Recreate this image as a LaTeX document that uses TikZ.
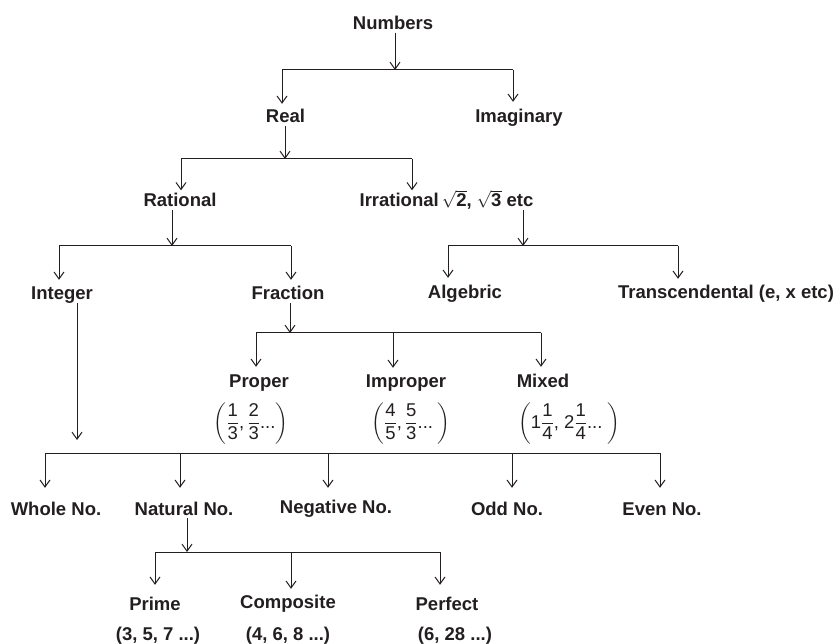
\documentclass[tikz,border=0pt]{standalone}
\usepackage{amsmath}
\usepackage{fontspec}
\setmainfont{Liberation Sans}
\usetikzlibrary{arrows.meta}
\definecolor{ink}{RGB}{35,31,32}
\newcommand\myfr[2]{\dfrac{\text{\normalfont #1}}{\text{\normalfont #2}}}
\newcommand\mytx[1]{\text{\normalfont #1}}
\newcommand\myclip[1]{\raisebox{0pt}[17pt][14pt]{#1}}
\begin{document}
\begin{tikzpicture}[x=1pt,y=-1pt,
  lbl/.style={font=\bfseries\fontsize{18.5}{20}\selectfont, text=ink, anchor=base,
     inner xsep=1pt, inner ysep=3pt, text height=13.5pt, text depth=0pt},
  mth/.style={font=\fontsize{18.5}{20}\selectfont, text=ink, anchor=base, inner sep=0pt},
  sub/.style={font=\bfseries\fontsize{18.5}{20}\selectfont, text=ink, anchor=base, inner sep=1pt},
  ln/.style={draw=ink, line width=1pt},
  arr/.style={ln, -{Straight Barb[length=7pt,width=10pt]}},
  dropto/.style={arr, shorten >=#1}]
\useasboundingbox (0,0) rectangle (838,644);

% nodes
\node[lbl] (num) at (393,29.5) {Numbers};
\node[lbl] (real) at (285.5,123) {Real};
\node[lbl] (imag) at (519,123) {Imaginary};
\node[lbl] (rat) at (180,207) {Rational};
\node[lbl] (irr) at (446.5,207) {Irrational\,$\sqrt{\textbf{2}}$, $\sqrt{\textbf{3}}$ etc};
\node[lbl] (int) at (62,300) {Integer};
\node[lbl] (frac) at (288,300) {Fraction};
\node[lbl] (alg) at (465,299) {Algebric};
\node[lbl] (trans) at (726,299) {Transcendental (e, x etc)};
\node[lbl] (prop) at (259,387) {Proper};
\node[lbl] (impr) at (406,387) {Improper};
\node[lbl] (mix) at (543,387) {Mixed};
\node[mth] (propf) at (251,428) {\myclip{$\left(\myfr{1}{3}\mytx{,\,}\myfr{2}{3}\mytx{...}\right)$}};
\node[mth] (imprf) at (411,428) {\myclip{$\left(\myfr{4}{5}\mytx{,\,}\myfr{5}{3}\mytx{...}\;\right)$}};
\node[mth] (mixf) at (569,428) {\myclip{$\left(\mytx{1}\myfr{1}{4}\mytx{, 2}\myfr{1}{4}\mytx{...}\;\right)$}};
\node[lbl] (whole) at (56,515) {Whole No.};
\node[lbl] (nat) at (184,515) {Natural No.};
\node[lbl] (neg) at (336,513) {Negative No.};
\node[lbl] (odd) at (507,515) {Odd No.};
\node[lbl] (even) at (662,515) {Even No.};
\node[lbl] (prime) at (155,610) {Prime};
\node[lbl] (comp) at (288,608) {Composite};
\node[lbl] (perf) at (447,610) {Perfect};
\node[sub] (primel) at (158,640) {(3, 5, 7 ...)};
\node[sub] (compl) at (288,640) {(4, 6, 8 ...)};
\node[sub] (perfl) at (455,640) {(6, 28 ...)};

% junction coordinates
\coordinate (j1) at (395,70);  \coordinate (b1L) at (282,70);  \coordinate (b1R) at (513,70);
\coordinate (j2) at (285,159); \coordinate (b2L) at (181,159); \coordinate (b2R) at (412,159);
\coordinate (j3) at (172,246); \coordinate (b3L) at (59,246);  \coordinate (b3R) at (291,246);
\coordinate (j4) at (523,246); \coordinate (b4L) at (448,246); \coordinate (b4R) at (678,246);
\coordinate (j5) at (290,333); \coordinate (b5L) at (256,333); \coordinate (b5M) at (393,333); \coordinate (b5R) at (541,333);
\coordinate (intend) at (77,440);
\coordinate (b6L) at (45,453); \coordinate (b6a) at (180,453); \coordinate (b6b) at (328,453); \coordinate (b6c) at (512,453); \coordinate (b6R) at (660,453);
\coordinate (j7) at (187,552); \coordinate (b7L) at (155,552); \coordinate (b7M) at (291,552); \coordinate (b7R) at (440,552);

% Numbers
\draw[arr] (num.south -| j1) -- (j1);
\draw[ln] (b1L) -- (b1R);
\draw[dropto=2.5pt] (b1L) -- (b1L |- real.north);
\draw[dropto=4.5pt] (b1R) -- (b1R |- imag.north);
% Real
\draw[arr] (real.south -| j2) -- (j2);
\draw[ln] (b2L) -- (b2R);
\draw[dropto=0pt] (b2L) -- (b2L |- rat.north);
\draw[dropto=0pt] (b2R) -- (b2R |- irr.north);
% Rational
\draw[arr] (rat.south -| j3) -- (j3);
\draw[ln] (b3L) -- (b3R);
\draw[dropto=3.5pt] (b3L) -- (b3L |- int.north);
\draw[dropto=3.5pt] (b3R) -- (b3R |- frac.north);
% Irrational
\draw[arr] (irr.south -| j4) -- (j4);
\draw[ln] (b4L) -- (b4R);
\draw[dropto=4.5pt] (b4L) -- (b4L |- alg.north);
\draw[dropto=3.5pt] (b4R) -- (b4R |- trans.north);
% Fraction
\draw[arr] (frac.south -| j5) -- (j5);
\draw[ln] (b5L) -- (b5R);
\draw[dropto=3.5pt] (b5L) -- (b5L |- prop.north);
\draw[dropto=2.5pt] (b5M) -- (b5M |- impr.north);
\draw[dropto=3.5pt] (b5R) -- (b5R |- mix.north);
% Integer
\draw[arr] (int.south -| intend) -- (intend);
\draw[ln] (b6L) -- (b6R);
\draw[dropto=10.5pt] (b6L) -- (b6L |- whole.north);
\draw[dropto=10.5pt] (b6a) -- (b6a |- nat.north);
\draw[dropto=8.5pt] (b6b) -- (b6b |- neg.north);
\draw[dropto=10.5pt] (b6c) -- (b6c |- odd.north);
\draw[dropto=10.5pt] (b6R) -- (b6R |- even.north);
% Natural
\draw[arr] (nat.south -| j7) -- (j7);
\draw[ln] (b7L) -- (b7R);
\draw[dropto=8.5pt] (b7L) -- (b7L |- prime.north);
\draw[dropto=2.5pt] (b7M) -- (b7M |- comp.north);
\draw[dropto=8.5pt] (b7R) -- (b7R |- perf.north);
\end{tikzpicture}
\end{document}
